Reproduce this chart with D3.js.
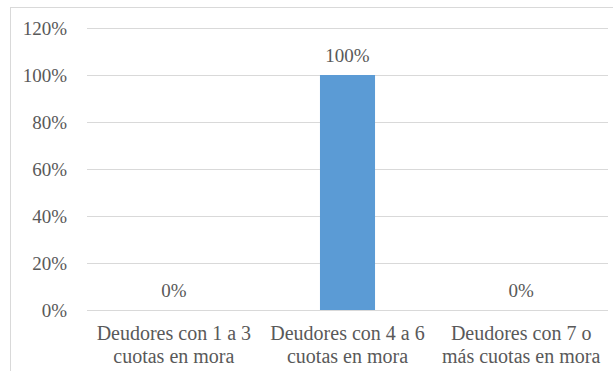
<!DOCTYPE html>
<html>
<head>
<meta charset="utf-8">
<script src="https://cdn.jsdelivr.net/npm/d3@7"></script>
</head>
<body style="margin:0;background:#fff">
<svg id="chart" width="613" height="371" style="display:block"></svg>
<script>
// Share of debtors by number of overdue instalments
const categories = [
  ["Deudores con 1 a 3", "cuotas en mora"],
  ["Deudores con 4 a 6", "cuotas en mora"],
  ["Deudores con 7 o", "más cuotas en mora"]
];
const values = [0, 1, 0];
const yTicks = [0, 0.2, 0.4, 0.6, 0.8, 1.0, 1.2];

const FONT = "'Liberation Serif'";
const TEXT = "#595959";
const svg = d3.select("#chart");
const W = 613, H = 371;

// chart area frame
svg.append("rect")
  .attr("x", 10.5).attr("y", 7.5)
  .attr("width", W).attr("height", H)
  .attr("fill", "#fff").attr("stroke", "#d9d9d9").attr("stroke-width", 1);

const plot = { left: 87, right: 608, top: 28, bottom: 310 };

const x = d3.scaleBand()
  .domain(d3.range(categories.length))
  .range([plot.left, plot.right])
  .paddingInner(0.683)
  .paddingOuter(0.3415);

const y = d3.scaleLinear().domain([0, 1.2]).range([plot.bottom, plot.top]);
const fmt = d3.format(".0%");

// horizontal gridlines
svg.append("g").selectAll("line").data(yTicks).join("line")
  .attr("x1", plot.left).attr("x2", plot.right)
  .attr("y1", d => Math.round(y(d)) + 0.5).attr("y2", d => Math.round(y(d)) + 0.5)
  .attr("stroke", "#d9d9d9").attr("stroke-width", 1);

// y axis labels
const yAxis = d3.axisLeft(y).tickValues(yTicks).tickFormat(fmt).tickSize(0).tickPadding(0);
const gy = svg.append("g").attr("transform", "translate(67,0)").call(yAxis);
gy.select(".domain").remove();
gy.selectAll("text")
  .attr("font-family", FONT).attr("font-size", 19)
  .attr("fill", TEXT).attr("dy", "0.34em");

// bars
svg.append("g").selectAll("rect").data(values).join("rect")
  .attr("x", (d, i) => x(i))
  .attr("width", x.bandwidth())
  .attr("y", d => y(d))
  .attr("height", d => y(0) - y(d))
  .attr("fill", "#5b9bd5");

// value labels
svg.append("g").selectAll("text").data(values).join("text")
  .attr("x", (d, i) => x(i) + x.bandwidth() / 2)
  .attr("y", d => y(d) - 13)
  .attr("text-anchor", "middle")
  .attr("font-family", FONT).attr("font-size", 19).attr("fill", TEXT)
  .text(d => fmt(d));

// category labels (two lines each)
const cat = svg.append("g").selectAll("text").data(categories).join("text")
  .attr("x", (d, i) => x(i) + x.bandwidth() / 2)
  .attr("y", 340)
  .attr("text-anchor", "middle")
  .attr("font-family", FONT).attr("font-size", 20).attr("fill", TEXT);
cat.selectAll("tspan").data(d => d).join("tspan")
  .attr("x", function () { return this.parentNode.getAttribute("x"); })
  .attr("dy", (d, j) => j === 0 ? 0 : 23)
  .text(d => d);
</script>
</body>
</html>
